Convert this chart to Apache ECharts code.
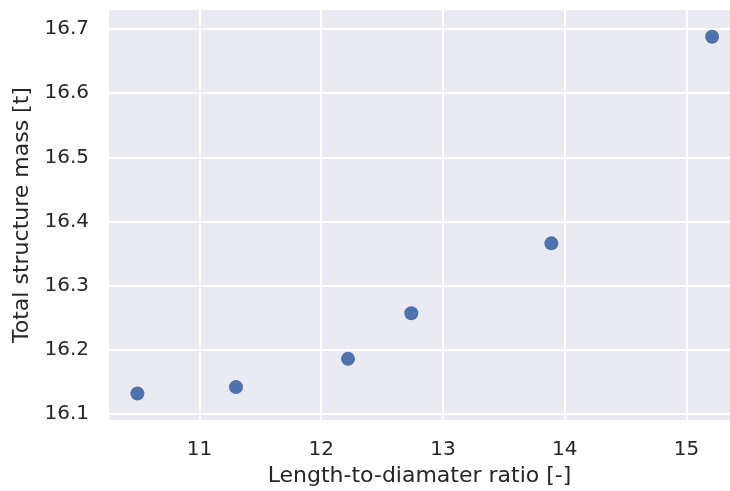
<!DOCTYPE html>
<html>
<head>
<meta charset="utf-8">
<script src="https://cdn.jsdelivr.net/npm/echarts@6/dist/echarts.min.js"></script>
<style>
  html, body { margin: 0; padding: 0; background: #fff; }
  #chart { width: 730px; height: 491px; }
</style>
</head>
<body>
<div id="chart"></div>
<script>
// values
const ratios = [10.49, 11.30, 12.22, 12.74, 13.89, 15.21];
const masses = [16.132, 16.142, 16.186, 16.257, 16.366, 16.688];
const xTicks = [11, 12, 13, 14, 15];
const yTicks = [16.1, 16.2, 16.3, 16.4, 16.5, 16.6, 16.7];

const chart = echarts.init(document.getElementById("chart"), null, { renderer: "canvas" });

const labelStyle = {
  color: "#262626",
  fontFamily: "DejaVu Sans",
  fontSize: 20
};
const titleStyle = Object.assign({}, labelStyle, { fontSize: 22 });

chart.setOption({
  animation: false,
  backgroundColor: "#fff",
  grid: {
    left: 109, right: 0, top: 10, bottom: 71,
    outerBoundsMode: "none",
    containLabel: false,
    show: true, backgroundColor: "#eaeaf2", borderWidth: 0
  },
  xAxis: {
    type: "value",
    min: 10.257,
    max: 15.357,
    axisLine: { show: false },
    axisTick: { show: false, customValues: xTicks },
    splitLine: { show: true, lineStyle: { color: "#fff", width: 2 } },
    axisLabel: Object.assign({
      margin: 20,
      customValues: xTicks,
      formatter: v => String(v)
    }, labelStyle),
    name: "Length-to-diamater ratio [-]",
    nameLocation: "middle",
    nameGap: 45,
    nameTextStyle: titleStyle
  },
  yAxis: {
    type: "value",
    min: 16.0907,
    max: 16.7296,
    axisLine: { show: false },
    axisTick: { show: false, customValues: yTicks },
    splitLine: { show: true, lineStyle: { color: "#fff", width: 2 } },
    axisLabel: Object.assign({
      margin: 20,
      customValues: yTicks,
      formatter: v => v.toFixed(1)
    }, labelStyle),
    name: "Total structure mass [t]",
    nameLocation: "middle",
    nameGap: 75,
    nameTextStyle: titleStyle
  },
  series: [{
    type: "scatter",
    symbolSize: 14,
    itemStyle: { color: "#4c72b0", opacity: 1 },
    data: ratios.map((r, i) => [r, masses[i]])
  }]
});
</script>
</body>
</html>
